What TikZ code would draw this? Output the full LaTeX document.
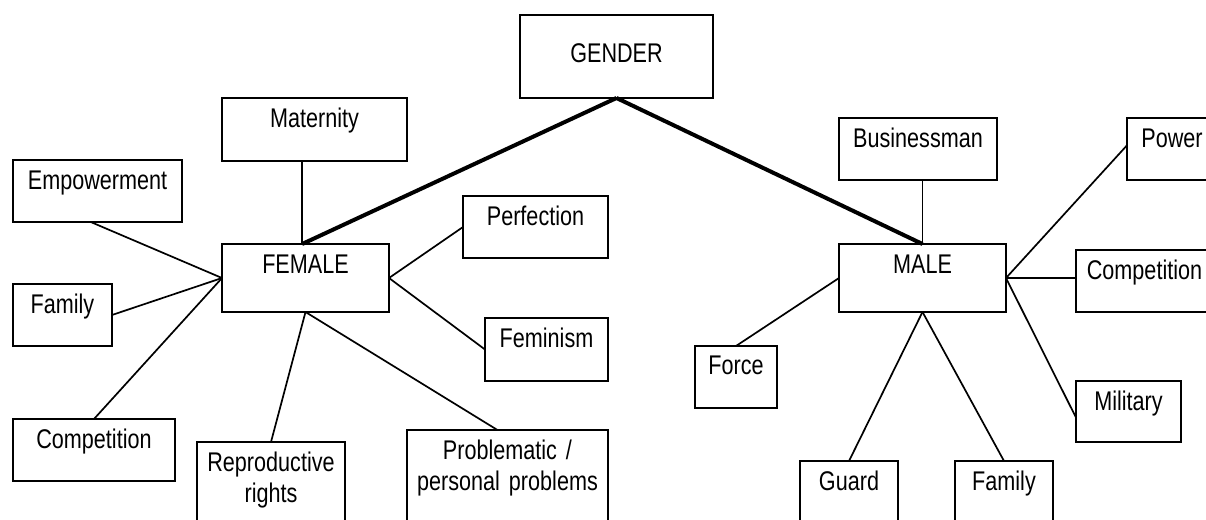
\documentclass[tikz,border=0pt]{standalone}
\usepackage{fontspec}
\setmainfont[FakeStretch=0.8]{Liberation Sans}
\usetikzlibrary{calc}
\newcommand{\boxfont}{\fontsize{27}{31}\selectfont\fontdimen2\font=0.75\fontdimen2\font}
\begin{document}
\begin{tikzpicture}[x=1pt,y=-1pt,
  box/.style={draw, line width=1.8pt, inner sep=0pt, outer sep=0pt, anchor=north west,
    align=center, font=\boxfont, text height=29pt},
  thin/.style={line width=1.7pt},
  thick/.style={line width=4pt}]
\useasboundingbox (0,0) rectangle (1206,519);
\clip (0,0) rectangle (1206,519);
% boxes
\node[box, text width=193pt, text height=48pt, text depth=35pt] (gender) at (520,15) {GENDER};
\node[box, text width=185pt, text depth=34pt] (maternity) at (222,98) {Maternity};
\node[box, text width=169pt, text depth=33pt] (emp) at (13,160) {Empowerment};
\node[box, text width=167pt, text depth=39pt] (female) at (222,244) {FEMALE};
\node[box, text width=145pt, text depth=33pt] (perf) at (463,196) {Perfection};
\node[box, text width=99pt, text depth=33pt] (famL) at (13,284) {Family};
\node[box, text width=123pt, text depth=34pt] (fem) at (485,318) {Feminism};
\node[box, text width=162pt, text depth=33pt] (compL) at (13,419) {Competition};
\node[box, text width=148pt, text depth=91pt] (rep) at (197,442) {Reproductive\\rights};
\node[box, text width=201pt, text depth=91pt] (prob) at (407,430) {Problematic /\\personal problems};
\node[box, text width=158pt, text depth=33pt] (bus) at (839,118) {Businessman};
\node[box, text width=90pt, text depth=33pt] (power) at (1127,118) {Power};
\node[box, text width=167pt, text depth=39pt] (male) at (839,244) {MALE};
\node[box, text width=137pt, text depth=33pt] (compR) at (1076,250) {Competition};
\node[box, text width=82pt, text height=28pt, text depth=34pt] (force) at (695,346) {Force};
\node[box, text width=105pt, text depth=32pt] (mil) at (1076,381) {Military};
\node[box, text width=98pt, text depth=71pt] (guard) at (800,461) {Guard};
\node[box, text width=98pt, text depth=71pt] (famR) at (955,461) {Family};
% connectors
\coordinate (ftop) at ($(female.north west)!0.48!(female.north east)$);
\draw[thick] (gender.south) -- (ftop);
\draw[thick] (gender.south) -- (male.north);
\draw[thin] (maternity.south -| ftop) -- (ftop);
\draw[thin] (bus.south -| male.north) -- (male.north);
\draw[thin] ($(emp.south west)!0.46!(emp.south east)$) -- (female.west);
\draw[thin] (famL.east) -- (female.west);
\draw[thin] (compL.north) -- (female.west);
\draw[thin] (female.south) -- (rep.north);
\draw[thin] (female.south) -- ($(prob.north west)!0.45!(prob.north east)$);
\draw[thin] (female.east) -- (perf.west);
\draw[thin] (female.east) -- (fem.west);
\draw[thin] (male.west) -- (force.north);
\draw[thin] (male.east) -- ($(power.north west)!0.44!(power.south west)$);
\draw[thin] (male.east) -- (male.east -| compR.west);
\draw[thin] (male.east) -- ($(mil.north west)!0.6!(mil.south west)$);
\draw[thin] (male.south) -- (guard.north);
\draw[thin] (male.south) -- (famR.north);
\end{tikzpicture}
\end{document}
